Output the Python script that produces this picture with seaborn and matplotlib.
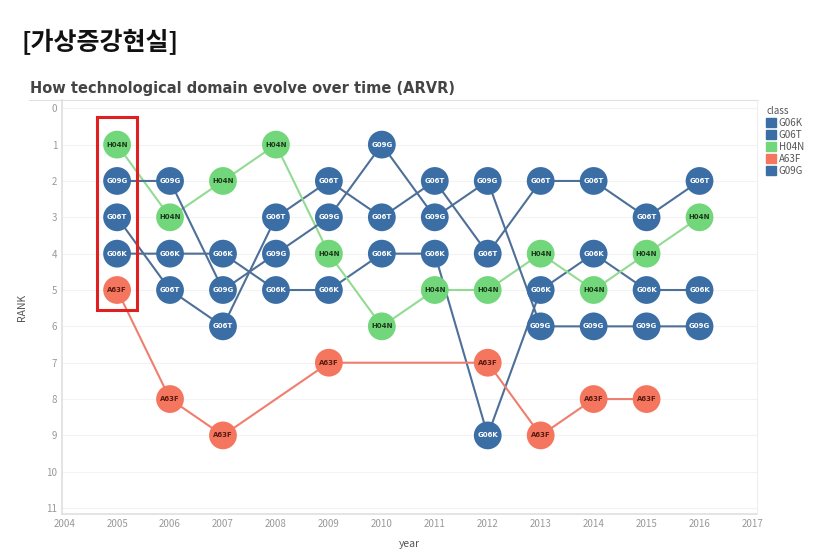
import pandas as pd
import numpy as np
import matplotlib.pyplot as plt
import matplotlib.patches as mpatches
from matplotlib.lines import Line2D
import seaborn as sns

# --- Data ---
years = [2005, 2006, 2007, 2008, 2009, 2010, 2011, 2012, 2013, 2014, 2015, 2016]
classes = ['G06K', 'G06T', 'H04N', 'A63F', 'G09G']
rank_g06k = [4, 4, 4, 5, 5, 4, 4, 9, 5, 4, 5, 5]
rank_g06t = [3, 5, 6, 3, 2, 3, 2, 4, 2, 2, 3, 2]
rank_h04n = [1, 3, 2, 1, 4, 6, 5, 5, 4, 5, 4, 3]
rank_a63f = [5, 8, 9, np.nan, 7, np.nan, np.nan, 7, 9, 8, 8, np.nan]
rank_g09g = [2, 2, 5, 4, 3, 1, 3, 2, 6, 6, 6, 6]

marker_colors = {'G06K': '#3b6ea5', 'G06T': '#3b6ea5', 'H04N': '#72d67a',
                 'A63F': '#f4765f', 'G09G': '#3b6ea5'}
line_colors = {'G06K': '#4d6f98', 'G06T': '#4d6f98', 'H04N': '#93da93',
               'A63F': '#f07e6e', 'G09G': '#4d6f98'}
text_colors = {'G06K': 'white', 'G06T': 'white', 'H04N': '#1d3a1d',
               'A63F': '#5a1a10', 'G09G': 'white'}

all_ranks = [rank_g06k, rank_g06t, rank_h04n, rank_a63f, rank_g09g]
df = pd.concat([
    pd.DataFrame({'year': years, 'RANK': r, 'class': c})
    for c, r in zip(classes, all_ranks)
], ignore_index=True).dropna()

# --- Plot ---
sns.set_theme(style="white")
plt.rcParams['font.family'] = ['Noto Sans CJK KR', 'DejaVu Sans']

fig = plt.figure(figsize=(8.38, 5.57), dpi=100)
ax = fig.add_axes([0.074, 0.077, 0.829, 0.743])

for c in classes:
    sub = df[df['class'] == c]
    sns.lineplot(data=sub, x='year', y='RANK', color=line_colors[c],
                 linewidth=1.5, ax=ax, zorder=2, estimator=None, sort=True)

sns.scatterplot(data=df, x='year', y='RANK', hue='class', palette=marker_colors,
                s=400, edgecolor='none', legend=False, ax=ax, zorder=3)

for _, row in df.iterrows():
    ax.text(row['year'], row['RANK'], row['class'], ha='center', va='center',
            fontsize=5, fontweight='bold', color=text_colors[row['class']],
            family='DejaVu Sans', zorder=4)

# highlight box around 2005
ax.add_patch(mpatches.Rectangle((2005 - 0.37, 0.25), 0.74, 5.3, fill=False,
                                edgecolor='#e02020', linewidth=2.2, zorder=5))

ax.set_xlim(2003.96, 2017.08)
ax.set_ylim(11.165, -0.22)
ax.set_xticks(range(2004, 2018))
ax.set_yticks(range(0, 12))
ax.tick_params(labelsize=7, colors='#999999', length=0)
ax.grid(axis='y', color='#f3f3f3', linewidth=0.8)
ax.set_xlabel('year', fontsize=7.5, color='#555555', labelpad=7)
ax.set_ylabel('RANK', fontsize=7.5, color='#555555', labelpad=14)
for side in ['top', 'right']:
    ax.spines[side].set_visible(False)
for side in ['left', 'bottom']:
    ax.spines[side].set_color('#e0e0e0')

fig.add_artist(Line2D([0.035, 0.905], [0.821, 0.821], color='#e0e0e0', lw=0.8))
fig.add_artist(Line2D([0.903, 0.903], [0.077, 0.821], color='#eeeeee', lw=0.8))

handles = [mpatches.Patch(color=marker_colors[c], label=c) for c in classes]
leg = ax.legend(handles=handles, title='class', loc='upper left',
                bbox_to_anchor=(1.005, 1.0), frameon=False, fontsize=7,
                title_fontsize=7, handlelength=1.0, handleheight=1.0,
                handletextpad=0.3, labelspacing=0.2, borderaxespad=0.2)
leg._legend_box.align = 'left'
for t in leg.get_texts():
    t.set_color('#555555')
leg.get_title().set_color('#555555')

fig.text(0.026, 0.925, '[가상증강현실]', fontsize=18, fontweight='black',
         color='#111111', va='center', ha='left')
fig.text(0.036, 0.842, 'How technological domain evolve over time (ARVR)',
         fontsize=10.5, fontweight='bold', color='#444444', va='center', ha='left',
         family='DejaVu Sans')

plt.savefig('out.png', dpi=100)
